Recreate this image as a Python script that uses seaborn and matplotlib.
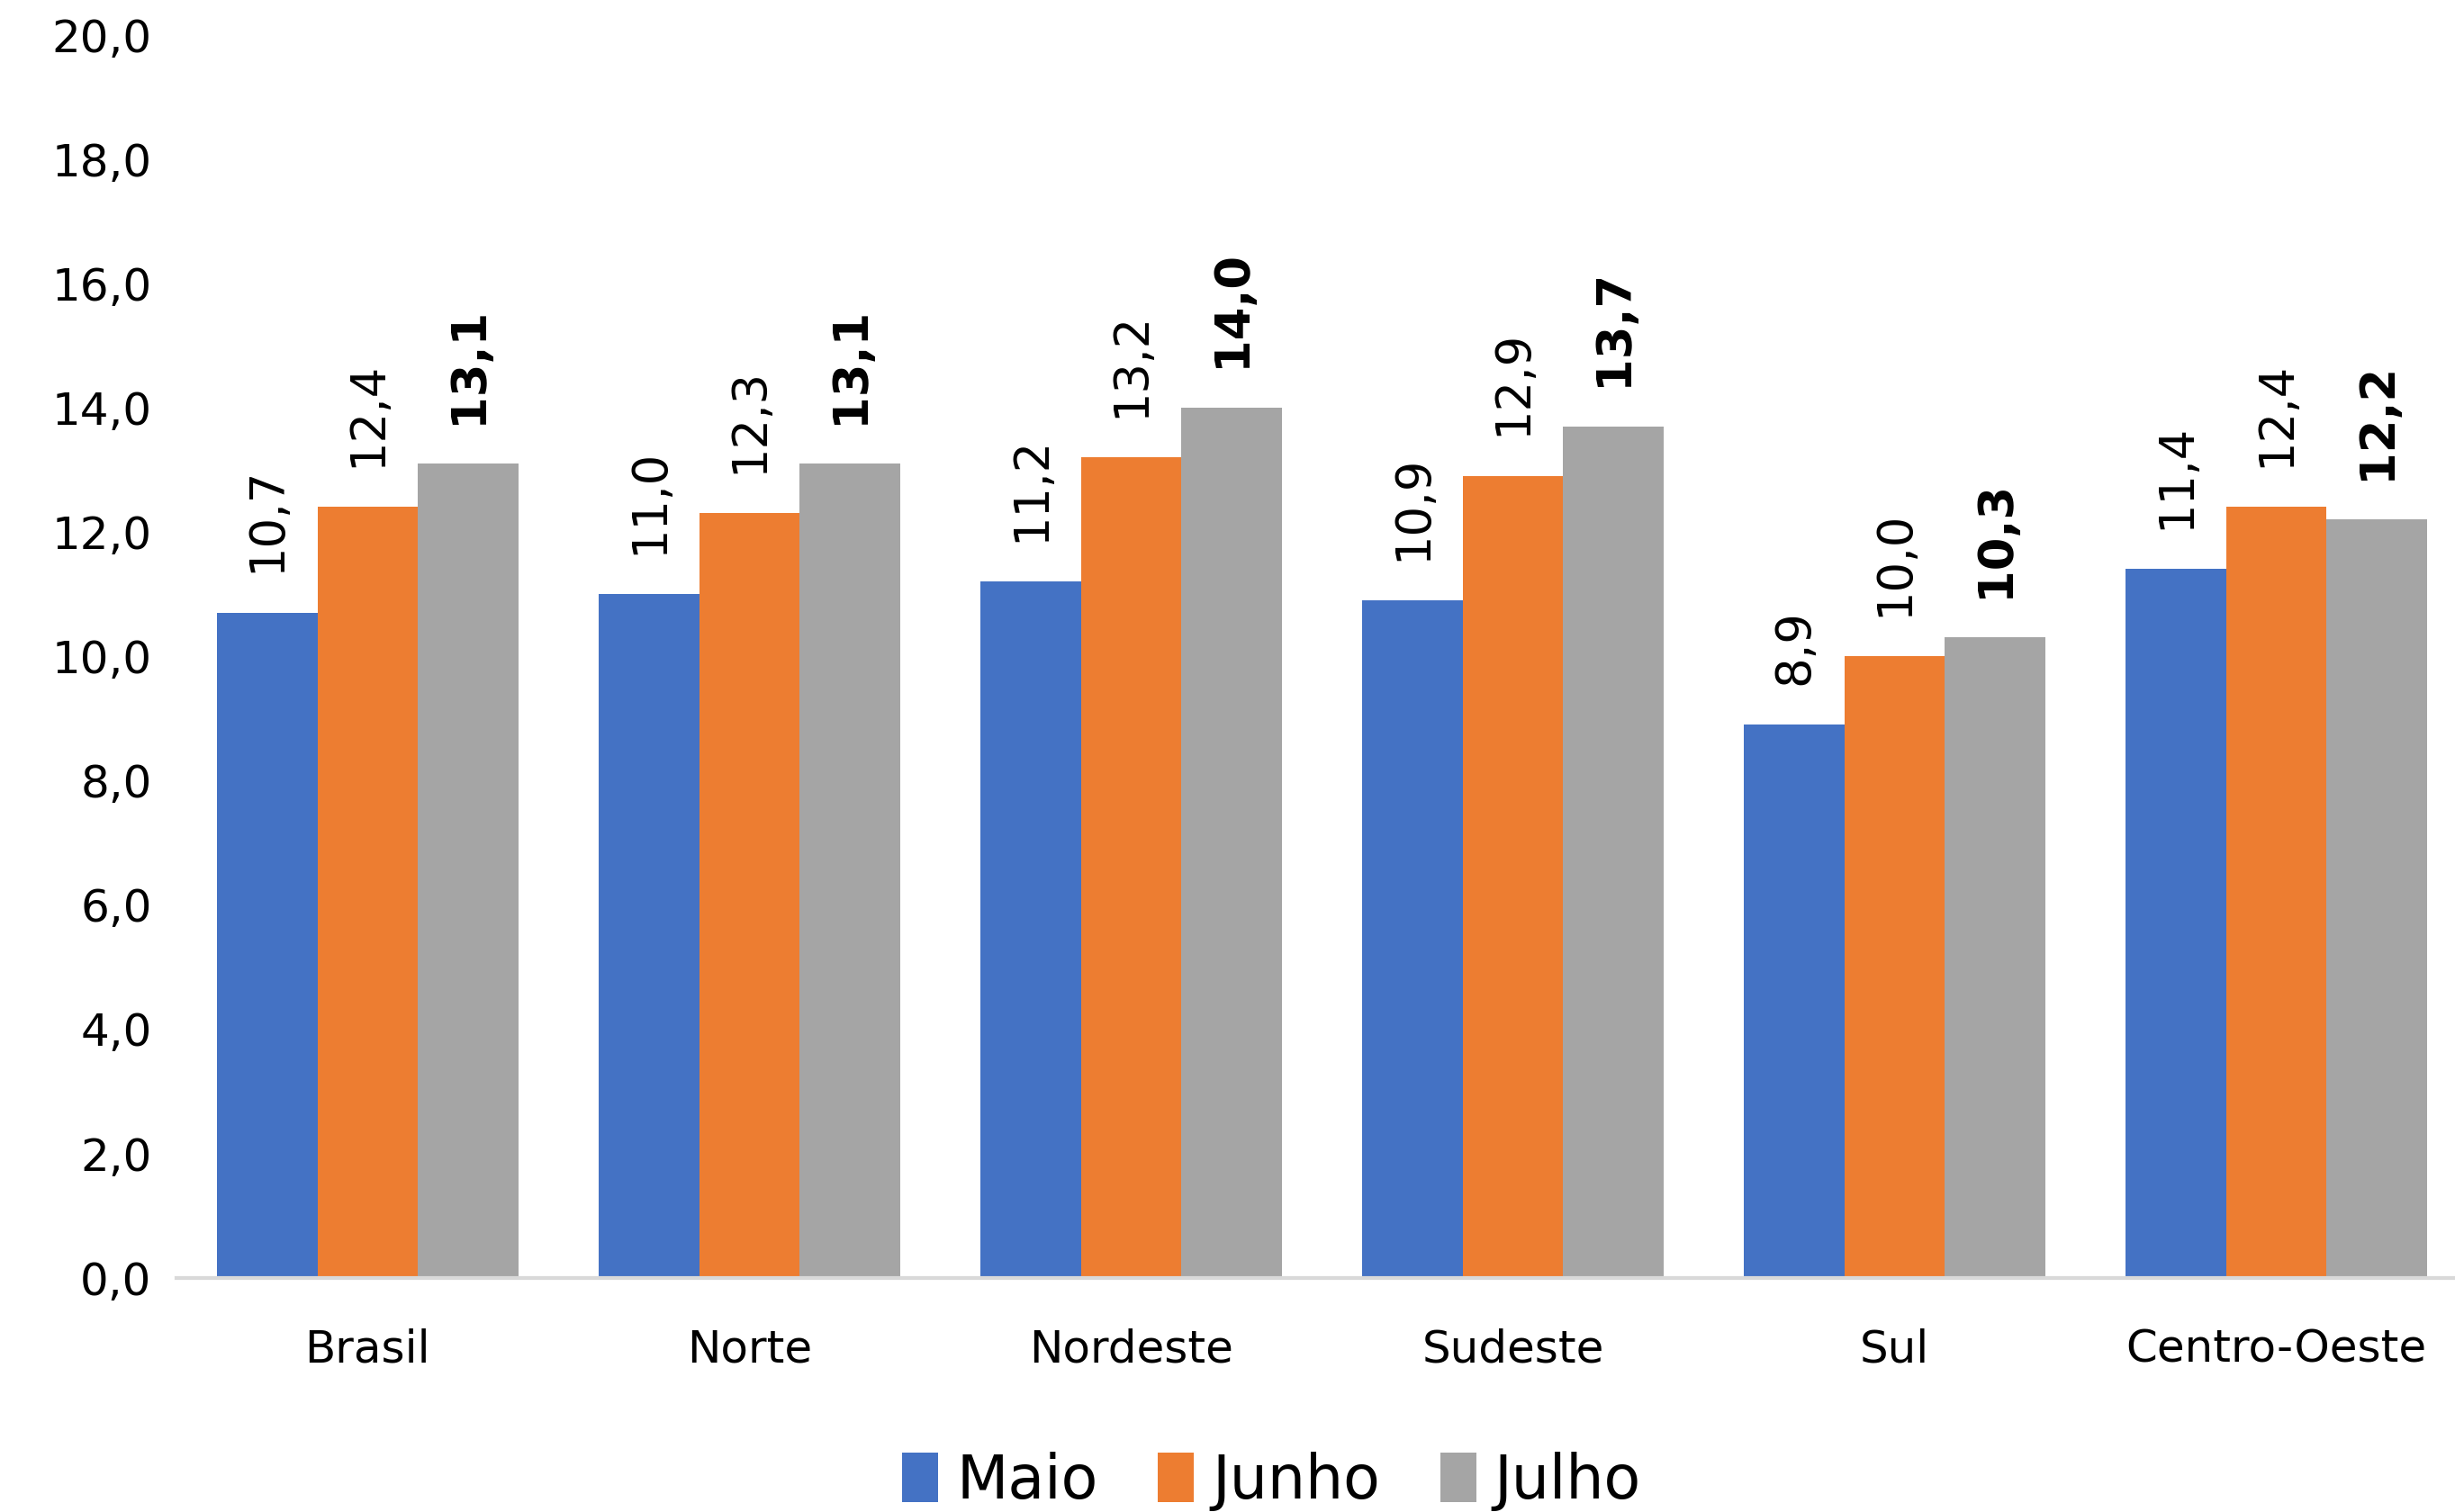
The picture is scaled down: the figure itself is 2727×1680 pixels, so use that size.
import matplotlib
matplotlib.use("Agg")
import matplotlib.pyplot as plt
import pandas as pd
import seaborn as sns


regions = ["Brasil", "Norte", "Nordeste", "Sudeste", "Sul", "Centro-Oeste"]
months = ["Maio", "Junho", "Julho"]
maio = [10.7, 11.0, 11.2, 10.9, 8.9, 11.4]
junho = [12.4, 12.3, 13.2, 12.9, 10.0, 12.4]
julho = [13.1, 13.1, 14.0, 13.7, 10.3, 12.2]
y_ticks = [0, 2, 4, 6, 8, 10, 12, 14, 16, 18, 20]

colors = ["#4472C4", "#ED7D31", "#A5A5A5"]


def fmt(value):
    return f"{value:.1f}".replace(".", ",")


df = pd.DataFrame({
    "Região": regions * 3,
    "Mês": [m for m in months for _ in regions],
    "Valor": maio + junho + julho,
})

sns.set_theme(style="white")
plt.rcParams["font.family"] = ["DejaVu Sans"]
plt.rcParams["text.color"] = "black"
plt.rcParams["xtick.color"] = "black"
plt.rcParams["ytick.color"] = "black"

fig = plt.figure(figsize=(27.27, 16.8), dpi=100)
ax = fig.add_axes([0.072, 0.155, 0.933, 0.822])

sns.barplot(
    data=df,
    x="Região",
    y="Valor",
    hue="Mês",
    hue_order=months,
    palette=colors,
    width=0.79,
    saturation=1,
    linewidth=0,
    ax=ax,
)

for idx, container in enumerate(ax.containers):
    labels = ax.bar_label(
        container,
        labels=[fmt(v) for v in container.datavalues],
        rotation=90,
        padding=32,
        fontsize=38,
        color="black",
    )
    if months[idx] == "Julho":
        for text in labels:
            text.set_fontweight("bold")

ax.set_ylim(0, 20)
ax.set_yticks(y_ticks)
ax.set_yticklabels([fmt(v) for v in y_ticks], fontsize=36)
ax.tick_params(axis="x", labelsize=36, length=0, pad=40)
ax.tick_params(axis="y", length=0, pad=20)
ax.set_xlabel("")
ax.set_ylabel("")
for side in ["top", "right", "left"]:
    ax.spines[side].set_visible(False)
ax.spines["bottom"].set_color("#D9D9D9")
ax.spines["bottom"].set_linewidth(3)

ax.legend(
    loc="lower center",
    bbox_to_anchor=(0.518, -0.035),
    bbox_transform=fig.transFigure,
    ncol=3,
    frameon=False,
    fontsize=48,
    handlelength=0.6,
    handleheight=0.9,
    handletextpad=0.3,
    columnspacing=1.0,
)

fig.savefig("out.png", dpi=100)
plt.close(fig)
